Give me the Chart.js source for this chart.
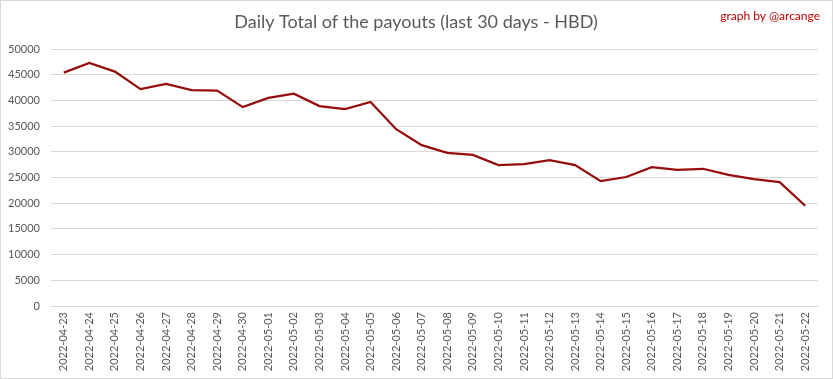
<!DOCTYPE html>
<html>
<head>
<meta charset="utf-8">
<script src="https://cdn.jsdelivr.net/npm/chart.js@4"></script>
<style>
  body { margin: 0; background: #fff; }
  #wrap { width: 833px; height: 379px; }
</style>
</head>
<body>
<div id="wrap"><canvas id="payouts" width="833" height="379"></canvas></div>
<script>
const days = [
  "2022-04-23", "2022-04-24", "2022-04-25", "2022-04-26", "2022-04-27", "2022-04-28",
  "2022-04-29", "2022-04-30", "2022-05-01", "2022-05-02", "2022-05-03", "2022-05-04",
  "2022-05-05", "2022-05-06", "2022-05-07", "2022-05-08", "2022-05-09", "2022-05-10",
  "2022-05-11", "2022-05-12", "2022-05-13", "2022-05-14", "2022-05-15", "2022-05-16",
  "2022-05-17", "2022-05-18", "2022-05-19", "2022-05-20", "2022-05-21", "2022-05-22"
];
const payouts = [
  45400, 47300, 45600, 42200, 43200, 42000, 41900, 38700, 40500, 41300,
  38900, 38300, 39700, 34400, 31300, 29800, 29400, 27400, 27600, 28400,
  27400, 24300, 25100, 27000, 26500, 26700, 25500, 24700, 24100, 19500
];
const yTicks = [0, 5000, 10000, 15000, 20000, 25000, 30000, 35000, 40000, 45000, 50000];

const fontFamily = "Lato, 'Open Sans', sans-serif";
const textGrey = "#595959";

// frame, title and credit line
const decorations = {
  id: "decorations",
  afterDraw(chart) {
    const ctx = chart.ctx;
    ctx.save();
    ctx.strokeStyle = "#d9d9d9";
    ctx.lineWidth = 1;
    ctx.strokeRect(0.5, 0.5, chart.width - 1, chart.height - 1);
    ctx.fillStyle = textGrey;
    ctx.font = "18px " + fontFamily;
    ctx.textAlign = "center";
    ctx.textBaseline = "middle";
    ctx.fillText("Daily Total of the payouts (last 30 days - HBD)", 416, 22);
    ctx.fillStyle = "#c00000";
    ctx.font = "12px " + fontFamily;
    ctx.textAlign = "right";
    ctx.fillText("graph by @arcange", 820, 16);
    ctx.restore();
  }
};

new Chart(document.getElementById("payouts"), {
  type: "line",
  data: {
    labels: days,
    datasets: [{
      label: "HBD",
      data: payouts,
      borderColor: "#950d0d",
      borderWidth: 2.25,
      pointRadius: 0,
      tension: 0
    }]
  },
  options: {
    responsive: false,
    animation: false,
    layout: { padding: { top: 49, right: 15, bottom: 0, left: 0 } },
    plugins: {
      legend: { display: false },
      tooltip: { enabled: false }
    },
    scales: {
      x: {
        offset: true,
        grid: { display: false, drawTicks: false },
        border: { color: "#d9d9d9" },
        ticks: {
          color: textGrey,
          font: { family: fontFamily, size: 11 },
          minRotation: 90,
          maxRotation: 90,
          autoSkip: false,
          padding: 6
        },
        afterFit(scale) { scale.height = 73; }
      },
      y: {
        min: 0,
        max: 50000,
        afterBuildTicks(scale) { scale.ticks = yTicks.map(v => ({ value: v })); },
        grid: { color: "#d9d9d9", drawTicks: false },
        border: { display: false },
        ticks: {
          color: textGrey,
          font: { family: fontFamily, size: 11 },
          padding: 11,
          callback: v => String(v)
        },
        afterFit(scale) { scale.width = 51; }
      }
    }
  },
  plugins: [decorations]
});
</script>
</body>
</html>
